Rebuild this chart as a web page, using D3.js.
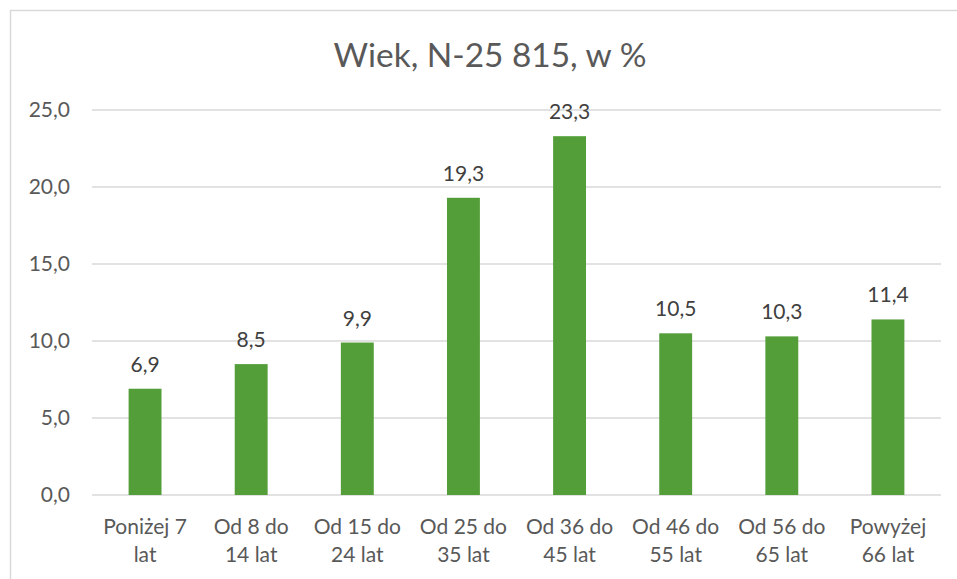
<!DOCTYPE html>
<html>
<head>
<meta charset="utf-8">
<script src="https://cdn.jsdelivr.net/npm/d3@7"></script>
<style>
  body { margin: 0; background: #fff; }
  text { font-family: Lato, "Open Sans", sans-serif; }
</style>
</head>
<body>
<script>
var categories = [
  ["Poniżej 7", "lat"],
  ["Od 8 do", "14 lat"],
  ["Od 15 do", "24 lat"],
  ["Od 25 do", "35 lat"],
  ["Od 36 do", "45 lat"],
  ["Od 46 do", "55 lat"],
  ["Od 56 do", "65 lat"],
  ["Powyżej", "66 lat"]
];
var values = [6.9, 8.5, 9.9, 19.3, 23.3, 10.5, 10.3, 11.4];
var yTicks = [0, 5, 10, 15, 20, 25];
var title = "Wiek, N-25 815, w %";

var W = 957, H = 579;
var plotLeft = 92, plotRight = 941, plotTop = 110, plotBottom = 495;
var fs = 21;
var fmt = function(v) { return d3.format(".1f")(v).replace(".", ","); };

var svg = d3.select("body").append("svg")
  .attr("width", W)
  .attr("height", H);

// chart frame
svg.append("rect")
  .attr("x", 10.5).attr("y", 10.5)
  .attr("width", W + 20).attr("height", H + 20)
  .attr("fill", "none")
  .attr("stroke", "#d9d9d9")
  .attr("stroke-width", 1.5);

var x = d3.scaleBand().domain(d3.range(categories.length)).range([plotLeft, plotRight]).padding(0);
var y = d3.scaleLinear().domain([0, 25]).range([plotBottom, plotTop]);

// gridlines
svg.append("g")
  .selectAll("line")
  .data(yTicks)
  .join("line")
  .attr("x1", plotLeft).attr("x2", plotRight)
  .attr("y1", d => y(d)).attr("y2", d => y(d))
  .attr("stroke", "#d9d9d9")
  .attr("stroke-width", 1.3);

// y axis labels
var yAxis = d3.axisLeft(y).tickValues(yTicks).tickFormat(fmt).tickSize(0).tickPadding(0);
var ga = svg.append("g").attr("transform", "translate(" + (plotLeft - 22) + ",0)").call(yAxis);
ga.select(".domain").remove();
ga.selectAll("text")
  .attr("font-family", "Lato, 'Open Sans', sans-serif")
  .attr("font-size", fs)
  .attr("fill", "#595959");

// bars
var barW = x.bandwidth() * 0.31;
svg.append("g")
  .selectAll("rect")
  .data(values)
  .join("rect")
  .attr("x", (d, i) => x(i) + x.bandwidth() / 2 - barW / 2)
  .attr("y", d => y(d))
  .attr("width", barW)
  .attr("height", d => y(0) - y(d))
  .attr("fill", "#549e39");

// value labels
svg.append("g")
  .selectAll("text")
  .data(values)
  .join("text")
  .attr("x", (d, i) => x(i) + x.bandwidth() / 2)
  .attr("y", d => y(d) - 17)
  .attr("text-anchor", "middle")
  .attr("font-size", fs)
  .attr("fill", "#404040")
  .text(fmt);

// category labels
var cat = svg.append("g")
  .selectAll("text")
  .data(categories)
  .join("text")
  .attr("text-anchor", "middle")
  .attr("font-size", fs)
  .attr("fill", "#595959");
cat.selectAll("tspan")
  .data((d, i) => d.map(s => ({ s: s, i: i })))
  .join("tspan")
  .attr("x", d => x(d.i) + x.bandwidth() / 2)
  .attr("y", (d, j) => 534 + j * 28)
  .text(d => d.s);

// title
var t = svg.append("text")
  .attr("x", 490)
  .attr("y", 67)
  .attr("text-anchor", "middle")
  .attr("font-size", 30)
  .attr("fill", "#595959")
  .text(title);
var tw = t.node().getComputedTextLength();
t.attr("font-size", 30 * 313 / tw);
</script>
</body>
</html>
